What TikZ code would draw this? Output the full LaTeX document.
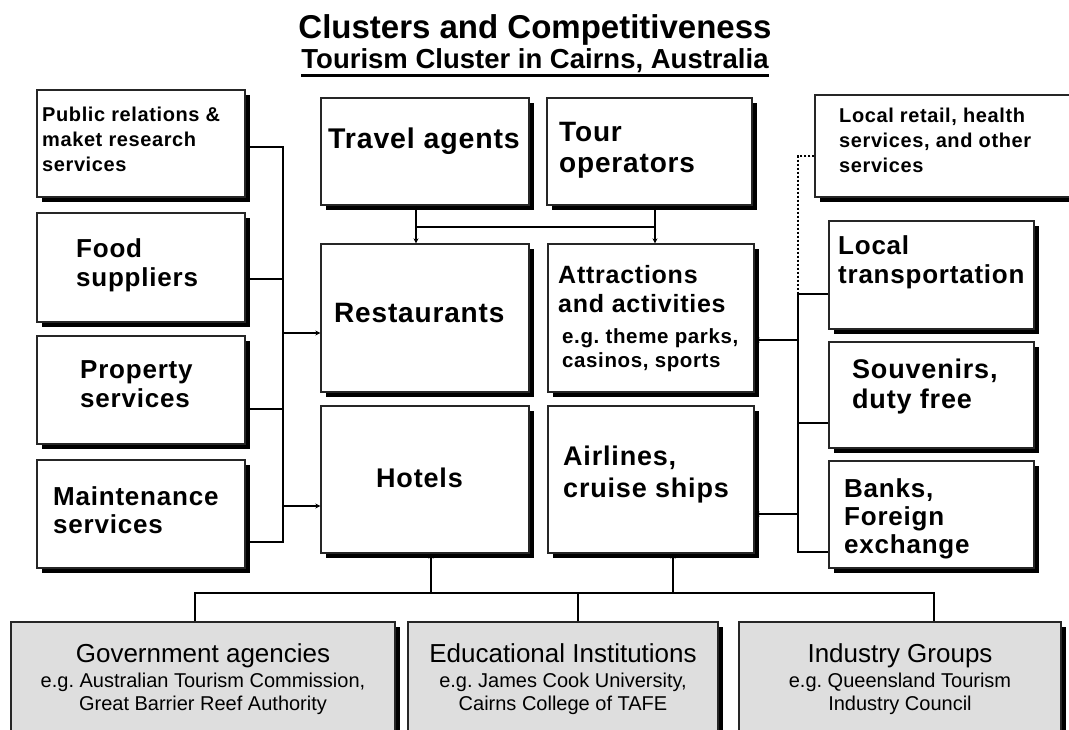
\documentclass[tikz,border=0pt]{standalone}
\usepackage{fontspec}
\setmainfont{Liberation Sans}
\newfontfamily\bx{Liberation Sans}[LetterSpace=3]
\usetikzlibrary{shadows,arrows.meta,fit}
\newcommand\fs[2]{\fontsize{#1}{#2}\selectfont}
\frenchspacing
\begin{document}
\begin{tikzpicture}[x=1pt,y=-1pt,
  box/.style={draw=black!85, line width=1.3pt, fill=white, inner sep=0pt,
    drop shadow={shadow xshift=5pt, shadow yshift=-5pt, fill=black, opacity=1}},
  gbox/.style={box, fill=black!13},
  conn/.style={line width=2.3pt, black},
  arr/.style={conn, -{Stealth[length=5pt,width=5pt]}},
  lbl/.style={anchor=base west, inner sep=0pt, align=left},
  blbl/.style={anchor=base, inner sep=0pt, align=center}]
\useasboundingbox (0,0) rectangle (1069,729);
\clip (0,0) rectangle (1069,729);
\fill[white] (0,0) rectangle (1069,729);

% titles
\node[blbl, font=\bfseries\fs{33}{38}] (title) at (535,38) {Clusters and Competitiveness};
\node[blbl, font=\bfseries\fs{27.5}{30}] (subtitle) at (535,68) {Tourism Cluster in Cairns, Australia};
\draw[line width=2.5pt] ([yshift=-7.5pt]subtitle.base west) -- ([yshift=-7.5pt]subtitle.base east);

% left boxes
\node[box, fit={(37,90) (245,197)}] (pr) {};
\node[box, fit={(37,213) (245,322)}] (food) {};
\node[box, fit={(37,336) (245,444)}] (prop) {};
\node[box, fit={(37,460) (245,568)}] (maint) {};
% centre boxes
\node[box, fit={(321,98) (529,205)}] (ta) {};
\node[box, fit={(547,98) (752,205)}] (to) {};
\node[box, fit={(321,244) (529,392)}] (rest) {};
\node[box, fit={(548,244) (754,392)}] (attr) {};
\node[box, fit={(321,406) (529,553)}] (hot) {};
\node[box, fit={(548,406) (754,553)}] (air) {};
% right boxes
\node[box, fit={(815,95) (1080,197)}] (ret) {};
\node[box, fit={(829,221) (1034,329)}] (trans) {};
\node[box, fit={(829,342) (1034,448)}] (souv) {};
\node[box, fit={(829,461) (1034,568)}] (bank) {};
% bottom boxes
\node[gbox, fit={(11,622) (395,760)}] (gov) {};
\node[gbox, fit={(408,622) (718,760)}] (edu) {};
\node[gbox, fit={(739,622) (1061,760)}] (ind) {};

% labels (coordinates are the baseline of the last line)
\node[lbl, font=\bx\bfseries\fs{20}{25}] (prT) at (42,171) {Public relations \&\\maket research\\services};
\node[lbl, font=\bx\bfseries\fs{26}{29}] (foodT) at (76,286) {Food\\suppliers};
\node[lbl, font=\bx\bfseries\fs{26}{29}] (propT) at (80,407) {Property\\services};
\node[lbl, font=\bx\bfseries\fs{26}{28}] (maintT) at (53,533) {Maintenance\\services};
\node[lbl, font=\bx\bfseries\fs{28.5}{31}] (taT) at (328,148) {Travel agents};
\node[lbl, font=\bx\bfseries\fs{28}{31}] (toT) at (559,172) {Tour\\operators};
\node[lbl, font=\bx\bfseries\fs{28}{29}] (restT) at (334,322) {Restaurants};
\node[lbl, font=\bx\bfseries\fs{25}{29}] (attrT) at (558,312) {Attractions\\and activities};
\node[lbl, font=\bx\bfseries\fs{20.5}{24}] (attrS) at (562,367) {e.g. theme parks,\\casinos, sports};
\node[lbl, font=\bx\bfseries\fs{27}{29}] (hotT) at (376,487) {Hotels};
\node[lbl, font=\bx\bfseries\fs{27}{32}] (airT) at (563,497) {Airlines,\\cruise ships};
\node[lbl, font=\bx\bfseries\fs{20}{25}] (retT) at (839,172) {Local retail, health\\services, and other\\services};
\node[lbl, font=\bx\bfseries\fs{26}{29}] (transT) at (838,283) {Local\\transportation};
\node[lbl, font=\bx\bfseries\fs{27}{30}] (souvT) at (852,408) {Souvenirs,\\duty free};
\node[lbl, font=\bx\bfseries\fs{26}{28}] (bankT) at (844,553) {Banks,\\Foreign\\exchange};

\node[blbl, font=\fs{26}{30}] (govT) at (203,662) {Government agencies};
\node[blbl, font=\fs{20}{23}] (govS) at (203,710) {e.g. Australian Tourism Commission,\\Great Barrier Reef Authority};
\node[blbl, font=\fs{26}{30}] (eduT) at (563,662) {Educational Institutions};
\node[blbl, font=\fs{20}{23}] (eduS) at (563,710) {e.g. James Cook University,\\Cairns College of TAFE};
\node[blbl, font=\fs{26}{30}] (indT) at (900,662) {Industry Groups};
\node[blbl, font=\fs{20}{23}] (indS) at (900,710) {e.g. Queensland Tourism\\Industry Council};

% left bus
\coordinate (L1) at (283,147);
\coordinate (L2) at (283,279);
\coordinate (L3) at (283,409);
\coordinate (L4) at (283,542);
\coordinate (La) at (283,333);
\coordinate (Lb) at (283,506);
\draw[conn] (pr.east |- L1) -- (L1) -- (L4) -- (maint.east |- L4);
\draw[conn] (food.east |- L2) -- (L2);
\draw[conn] (prop.east |- L3) -- (L3);
\draw[arr] (La) -- (rest.west |- La);
\draw[arr] (Lb) -- (hot.west |- Lb);

% top connectors
\coordinate (T1) at (416,227);
\coordinate (T2) at (655,227);
\draw[arr] (ta.south -| T1) -- (rest.north -| T1);
\draw[arr] (to.south -| T2) -- (attr.north -| T2);
\draw[conn] (T1) -- (T2);

% right bus
\coordinate (R0) at (798,156);
\coordinate (R1) at (798,294);
\coordinate (R2) at (798,423);
\coordinate (R3) at (798,552);
\coordinate (Ra) at (798,340);
\coordinate (Rb) at (798,514);
\draw[line width=2pt, dash pattern=on 2pt off 2pt] (ret.west |- R0) -- (R0) -- (R1);
\draw[conn] (trans.west |- R1) -- (R1) -- (R3) -- (bank.west |- R3);
\draw[conn] (souv.west |- R2) -- (R2);
\draw[arr] (Ra) -- (attr.east |- Ra);
\draw[arr] (Rb) -- (air.east |- Rb);

% bottom bus
\coordinate (B1) at (195,593);
\coordinate (B2) at (934,593);
\coordinate (Be) at (578,593);
\coordinate (Bh) at (431,593);
\coordinate (Ba) at (673,593);
\draw[conn] (gov.north -| B1) -- (B1) -- (B2) -- (ind.north -| B2);
\draw[conn] (edu.north -| Be) -- (Be);
\draw[arr] (Bh) -- (hot.south -| Bh);
\draw[arr] (Ba) -- (air.south -| Ba);
\end{tikzpicture}
\end{document}
